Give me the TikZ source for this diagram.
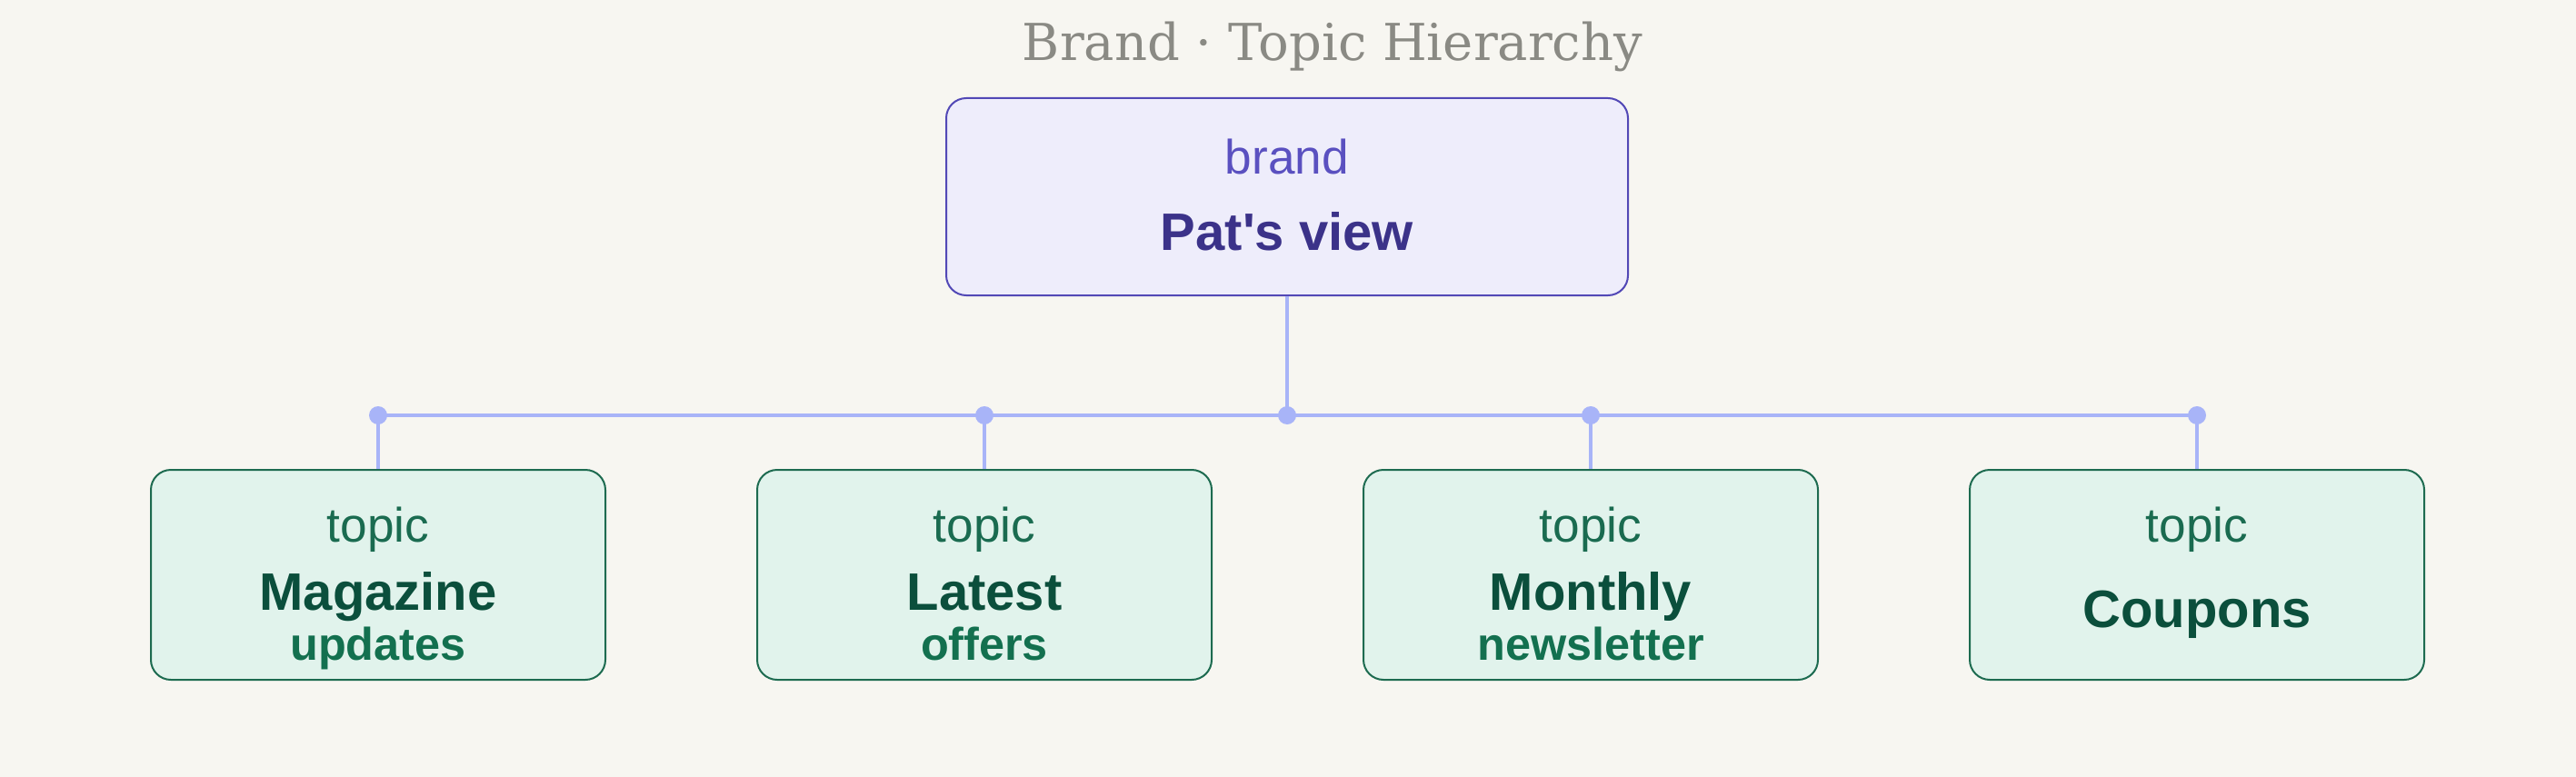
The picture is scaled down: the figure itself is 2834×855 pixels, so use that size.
\documentclass[tikz,border=0pt]{standalone}
\usepackage{fontspec}
\setmainfont{Liberation Sans}
\newfontfamily\titlefont{DejaVu Serif}
\definecolor{bgc}{HTML}{F7F6F1}
\definecolor{brandfill}{HTML}{EEEDFB}
\definecolor{brandline}{HTML}{5248B6}
\definecolor{brandsmall}{HTML}{5A50C0}
\definecolor{brandbig}{HTML}{3B3289}
\definecolor{topicfill}{HTML}{E1F3EC}
\definecolor{topicline}{HTML}{1D6B50}
\definecolor{topicsmall}{HTML}{1A6B50}
\definecolor{topicbig}{HTML}{0B4F3C}
\definecolor{topicsub}{HTML}{13704F}
\definecolor{connc}{HTML}{A8B4F8}
\definecolor{titlec}{HTML}{8A8A84}
\begin{document}
\begin{tikzpicture}[x=0.25pt,y=-0.25pt,
  brandbox/.style={draw=brandline,fill=brandfill,line width=0.5pt,rounded corners=5.5pt,minimum width=187.5pt,minimum height=54.25pt,inner sep=0pt},
  topicbox/.style={draw=topicline,fill=topicfill,line width=0.5pt,rounded corners=5.5pt,minimum width=125pt,minimum height=57.75pt,inner sep=0pt},
  txt/.style={anchor=base,inner sep=0pt},
  kindtxt/.style={txt,font=\fontsize{13.3pt}{15pt}\selectfont},
  bigtxt/.style={txt,font=\fontsize{14.5pt}{16pt}\selectfont\bfseries},
  subtxt/.style={txt,font=\fontsize{12.6pt}{14pt}\selectfont\bfseries,text=topicsub},
  conn/.style={draw=connc,line width=1.1pt},
  dot/.style={circle,fill=connc,minimum size=5pt,inner sep=0pt}]
\fill[bgc] (0,0) rectangle (2834,855);
\useasboundingbox (0,0) rectangle (2834,855);
\node[txt,font=\titlefont\fontsize{14pt}{16pt}\selectfont,text=titlec] (title) at (1466,67) {Brand · Topic Hierarchy};
% boxes
\node[brandbox] (brand) at (1416,216.5) {};
\node[kindtxt,text=brandsmall] (brandk) at (1416,192) {brand};
\node[bigtxt,text=brandbig] (brandn) at (1416,275) {Pat\textquotesingle s view};
\foreach \i/\x in {1/416,2/1083,3/1750,4/2417}{
  \node[topicbox] (t\i) at (\x,632.5) {};
  \node[kindtxt,text=topicsmall] (k\i) at (\x,596) {topic};
}
\node[bigtxt,text=topicbig] (n1) at (416,671) {Magazine};
\node[subtxt] (s1) at (416,726) {updates};
\node[bigtxt,text=topicbig] (n2) at (1083,671) {Latest};
\node[subtxt] (s2) at (1083,726) {offers};
\node[bigtxt,text=topicbig] (n3) at (1750,671) {Monthly};
\node[subtxt] (s3) at (1750,726) {newsletter};
\node[bigtxt,text=topicbig] (n4) at (2417,690) {Coupons};
% connectors
\coordinate (dc) at (1416,457);
\coordinate (d1) at (416,457);
\coordinate (d2) at (1083,457);
\coordinate (d3) at (1750,457);
\coordinate (d4) at (2417,457);
\draw[conn] (brand.south) -- (dc);
\draw[conn] (d1) -- (d4);
\foreach \i in {1,2,3,4}{\draw[conn] (d\i) -- (t\i.north);}
\foreach \p in {dc,d1,d2,d3,d4}{\node[dot] at (\p) {};}
\end{tikzpicture}
\end{document}
